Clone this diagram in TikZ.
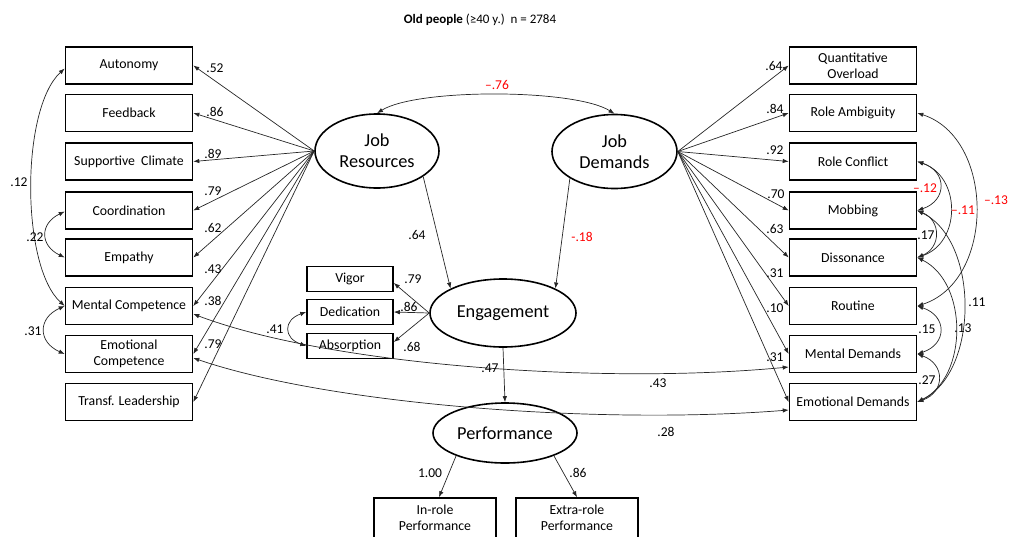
\documentclass[tikz,border=0pt]{standalone}
\usepackage{fontspec}
\setmainfont{Carlito}
\usetikzlibrary{arrows.meta,shapes.geometric,calc}
\newcommand\fsbox{\fontsize{13.8}{16}\selectfont}
\newcommand\fslbl{\fontsize{13.5}{16}\selectfont}
\newcommand\fstitle{\fontsize{13}{16}\selectfont}
\newcommand\fslat{\fontsize{18.3}{21}\selectfont}
\begin{document}
\begin{tikzpicture}[x=1pt,y=-1pt,
 box/.style={draw,line width=1.6pt,minimum width=127pt,minimum height=37pt,inner sep=0pt,align=center,font=\fsbox},
 sbox/.style={draw,line width=1.6pt,minimum width=86pt,minimum height=25pt,inner sep=0pt,font=\fsbox},
 lat/.style={draw,ellipse,line width=1.6pt,inner sep=0pt,align=center,font=\fslat},
 lbl/.style={inner sep=0pt,font=\fslbl},
 rlbl/.style={lbl,text=red},
 arr/.style={draw=black!85,line width=0.7pt,-{Latex[length=6pt,width=4.5pt]}},
 cov/.style={draw=black!85,line width=0.7pt,{Latex[length=6pt,width=4.5pt]}-{Latex[length=6pt,width=4.5pt]}},
]
\useasboundingbox (0,0) rectangle (1009,536);
\node[inner sep=0pt,font=\fstitle] (title) at (480,20) {\textbf{Old people} (≥40 y.)\ \ n = 2784};

% left boxes
\node[box] (Aut) at (129,65.5) {Autonomy};
\node[box] (Fee) at (129,113) {Feedback};
\node[box] (Sup) at (129,161.5) {Supportive\ \ Climate};
\node[box] (Coo) at (129,210.5) {Coordination};
\node[box] (Emp) at (129,257.5) {Empathy};
\node[box] (MC) at (129,306) {Mental Competence};
\node[box] (EC) at (129,354) {Emotional\\Competence};
\node[box] (TL) at (129,402) {Transf. Leadership};

% right boxes
\node[box] (QO) at (853,65.5) {Quantitative\\Overload};
\node[box] (RA) at (853,113) {Role Ambiguity};
\node[box] (RC) at (853,161.5) {Role Conflict};
\node[box] (Mob) at (853,210.5) {Mobbing};
\node[box] (Dis) at (853,257.5) {Dissonance};
\node[box] (Rout) at (853,306) {Routine};
\node[box] (MD) at (853,354) {Mental Demands};
\node[box] (ED) at (853,402) {Emotional Demands};

% latent variables
\node[lat,minimum width=124pt,minimum height=74pt] (JR) at (377,151) {Job\\Resources};
\node[lat,minimum width=125pt,minimum height=74pt] (JD) at (614.5,151.5) {Job\\Demands};
\node[lat,minimum width=146pt,minimum height=68pt] (Eng) at (503,313) {Engagement};
\node[lat,minimum width=144pt,minimum height=60pt] (Perf) at (505,433) {Performance};

% engagement indicators
\node[sbox] (Vig) at (350,279) {Vigor};
\node[sbox] (Ded) at (350,312) {Dedication};
\node[sbox] (Abs) at (350,346) {Absorption};

% performance indicators
\node[box,minimum width=122pt,minimum height=40pt] (IR) at (435,518) {In-role\\Performance};
\node[box,minimum width=122pt,minimum height=40pt] (ER) at (577,518) {Extra-role\\Performance};

% loadings job resources
\foreach \n in {Aut,Fee,Sup,Coo,Emp,MC,EC,TL} \draw[arr] (JR.west) -- (\n.east);
% loadings job demands
\foreach \n in {QO,RA,RC,Mob,Dis,Rout,MD,ED} \draw[arr] (JD.east) -- (\n.west);

% structural paths
\draw[arr] (JR.-29.5) -- (Eng.155);
\draw[arr] (JD.211) -- (Eng.25);
\draw[arr] (Eng.south) -- (Perf.north);
\draw[arr] (Eng.west) -- ($(Vig.east)+(0,4)$);
\draw[arr] (Eng.west) -- (Ded.east);
\draw[arr] (Eng.west) -- ($(Abs.east)+(0,-4)$);
\draw[arr] (Perf.205) -- ($(IR.north)+(4,0)$);
\draw[arr] (Perf.-25) -- (ER.north);

% covariances
\draw[cov] (JR.north) .. controls +(40,-25) and +(-40,-25) .. (JD.north);
\draw[cov] ($(Aut.west)+(0,3)$) .. controls +(-44,40) and +(-44,-40) .. (MC.west);
\draw[cov] ($(Coo.west)+(0,1)$) .. controls +(-25,12) and +(-25,-12) .. (Emp.west);
\draw[cov] (MC.west) .. controls +(-27,12) and +(-27,-12) .. (EC.west);
\draw[cov] (Ded.west) .. controls +(-23,8) and +(-23,-8) .. (Abs.west);
\draw[cov] ($(MC.east)+(0,8)$) .. controls +(135,51) and +(-189,18) .. ($(MD.west)+(0,13)$);
\draw[cov] ($(EC.east)+(0,4)$) .. controls +(138,47) and +(-189,15) .. ($(ED.west)+(0,8)$);
\draw[cov] (RA.east) .. controls +(78,25) and +(78,-25) .. (Rout.east);
\draw[cov] (RC.east) .. controls +(30,10) and +(30,-10) .. (Mob.east);
\draw[cov] (RC.east) .. controls +(44,15) and +(44,-15) .. (Dis.east);
\draw[cov] (Mob.east) .. controls +(24,10) and +(24,-10) .. (Dis.east);
\draw[cov] (Mob.east) .. controls +(62,30) and +(62,-30) .. (ED.east);
\draw[cov] (Dis.east) .. controls +(51,25) and +(51,-25) .. (ED.east);
\draw[cov] (Rout.east) .. controls +(30,10) and +(30,-10) .. (MD.east);
\draw[cov] (MD.east) .. controls +(28,10) and +(28,-10) .. (ED.east);

% labels left loadings
\node[lbl] (a1) at (215,68) {.52};
\node[lbl] (a2) at (215,112) {.86};
\node[lbl] (a3) at (213,154) {.89};
\node[lbl] (a4) at (213,191) {.79};
\node[lbl] (a5) at (213,228) {.62};
\node[lbl] (a6) at (213,269) {.43};
\node[lbl] (a7) at (213,301) {.38};
\node[lbl] (a8) at (213,344) {.79};
% labels right loadings
\node[lbl] (b1) at (774,66) {.64};
\node[lbl] (b2) at (775,109) {.84};
\node[lbl] (b3) at (775,150) {.92};
\node[lbl] (b4) at (776,194) {.70};
\node[lbl] (b5) at (775,229) {.63};
\node[lbl] (b6) at (775,273) {.31};
\node[lbl] (b7) at (775,308) {.10};
\node[lbl] (b8) at (775,357) {.31};
% other labels
\node[rlbl] (c1) at (497,85) {–.76};
\node[lbl] (c2) at (417,235) {.64};
\node[rlbl] (c3) at (582,237) {-.18};
\node[lbl] (c4) at (413,279) {.79};
\node[lbl] (c5) at (409,307) {.86};
\node[lbl] (c6) at (412,347) {.68};
\node[lbl] (c7) at (490,368) {.47};
\node[lbl] (c8) at (658,383) {.43};
\node[lbl] (c9) at (666,432) {.28};
\node[lbl] (c10) at (430,473) {1.00};
\node[lbl] (c11) at (578,473) {.86};
\node[lbl] (d1) at (19,182) {.12};
\node[lbl] (d2) at (35,237) {.22};
\node[lbl] (d3) at (33,331) {.31};
\node[lbl] (d4) at (275,329) {.41};
\node[rlbl] (e1) at (925,188) {–.12};
\node[rlbl] (e2) at (963,210) {–.11};
\node[rlbl] (e3) at (996,200) {–.13};
\node[lbl] (e4) at (926,235) {.17};
\node[lbl] (e5) at (977,302) {.11};
\node[lbl] (e6) at (963,328) {.13};
\node[lbl] (e7) at (927,329) {.15};
\node[lbl] (e8) at (927,380) {.27};
\end{tikzpicture}
\end{document}
